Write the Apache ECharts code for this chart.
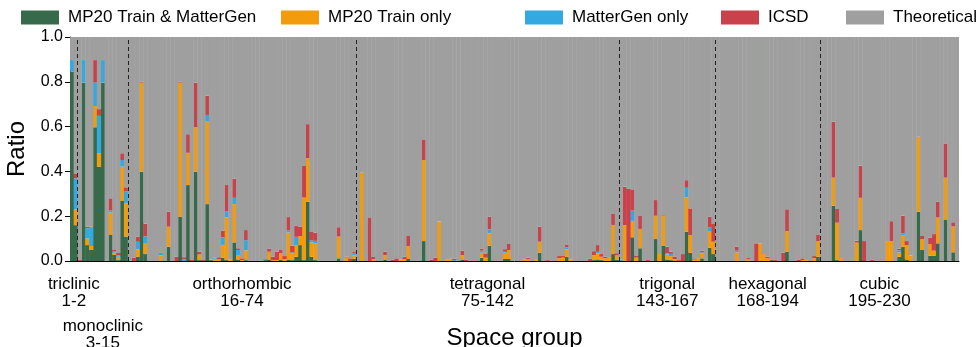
<!DOCTYPE html>
<html><head><meta charset="utf-8">
<script src="https://cdn.jsdelivr.net/npm/echarts@6/dist/echarts.min.js"></script>
<style>html,body{margin:0;padding:0;background:#fff}#c{width:976px;height:347px}</style>
</head><body><div id="c"></div>
<script>
// Space group numbers 1..230 (categories)
const spaceGroups = [];
for (let i = 1; i <= 230; i++) spaceGroups.push(String(i));

const both = [
.845,.16,0,.796,.071,.049,.597,.421,.796,0,
.116,.027,.004,.268,.109,0,0,.019,.399,.031,
0,0,0,0,0,.064,0,0,.198,0,
.339,0,.399,.004,0,.254,.004,0,0,.015,
.004,0,.083,.007,0,.004,0,0,0,0,
.004,.007,0,0,.007,0,.007,.004,.019,.071,
.004,.265,.019,.004,0,0,0,0,0,.012,
0,0,0,.01,0,0,0,0,0,0,
0,.007,0,0,0,0,0,.009,0,0,
0,.089,0,0,0,0,0,0,0,0,
0,.007,0,0,0,0,.015,0,.068,0,
0,0,.009,.009,0,0,0,0,0,0,
0,.037,0,0,0,0,0,0,.019,0,
0,0,0,0,0,.004,.007,.004,0,0,
.031,.005,0,0,0,.106,0,.057,0,0,
0,.098,0,.067,.007,.004,0,0,0,.131,
.037,0,0,.012,0,.06,.031,0,0,0,
0,0,0,0,0,0,0,0,0,0,
0,.004,0,0,0,.042,0,0,0,0,
0,0,0,.019,0,0,0,.247,.004,0,
0,0,0,0,.138,0,0,0,0,0,
0,0,0,0,.019,.064,.007,0,0,.22,
.049,0,.024,.024,.079,0,.183,0,.039,0];

const trainOnly = [
0,.07,0,0,.03,.018,.095,.06,0,0,
.1,.01,.015,.153,.149,0,0,.033,.397,.046,
0,0,0,.025,0,.089,0,0,.598,0,
.144,0,.198,.025,0,.368,.004,.01,.007,.057,
.191,.008,.171,.02,.004,.044,0,0,0,0,
0,.034,.004,.004,.027,.007,.12,.03,.052,.04,
.279,.193,.064,.074,0,0,0,0,0,.097,
0,.015,0,.016,0,.394,0,0,.008,0,
0,.019,0,0,0,.007,.007,.058,0,0,
0,.362,0,0,0,.176,0,.006,.007,0,
0,.019,0,0,0,0,.022,.015,.055,0,
0,0,.028,.04,0,0,0,.006,.007,0,
.006,.049,0,0,0,0,.012,.015,.033,.007,
0,0,0,0,0,.022,.027,.015,.012,.015,
.13,.02,0,.16,0,.073,.015,.086,0,0,
0,.104,.031,.135,.022,.018,.008,0,0,.153,
.079,.004,.012,.022,0,.074,.055,0,0,0,
0,0,.039,0,0,.007,0,0,.079,.031,
.012,.004,0,0,0,.092,0,0,0,.004,
.004,0,.012,.07,0,0,0,.125,.167,.012,
0,0,0,.082,.144,0,0,0,0,0,
0,.089,.089,0,.019,.052,.064,.024,0,.332,
.048,0,.052,.022,.115,0,.189,0,.115,0];

const genOnly = [
.052,.139,0,.101,.045,.083,.104,.167,.101,0,
.009,.005,.007,.03,.052,0,0,.034,0,.033,
0,0,0,.007,0,0,0,0,0,.007,
0,0,0,0,0,.03,0,.005,0,.033,
.028,0,.028,.022,0,.045,0,0,0,0,
0,0,0,0,0,0,.009,.004,.037,0,
0,0,.01,.012,0,0,0,0,0,0,
0,0,0,.007,0,0,0,0,0,0,
0,0,0,0,0,0,0,0,0,0,
0,0,0,0,0,0,0,0,0,.004,
0,0,0,0,0,0,.009,0,.018,0,
0,0,.004,0,0,0,0,0,0,0,
0,0,0,0,0,0,0,0,.009,0,
0,0,0,0,0,0,.007,0,0,0,
0,0,.006,0,0,.046,0,0,0,0,
0,0,0,0,.005,.01,0,0,0,.043,
0,0,0,.004,0,.015,0,0,0,0,
0,0,.007,0,0,0,0,0,0,0,
0,0,0,0,0,0,0,0,0,0,
0,0,0,0,0,0,0,0,0,0,
0,0,0,0,0,0,0,0,0,0,
0,0,0,0,.01,.007,0,0,0,0,
0,0,0,0,0,0,0,0,0,0];

const icsd = [
0,.022,.007,0,.007,.004,.101,.03,0,0,
.055,.007,.01,.03,.019,0,.015,.022,.005,.057,
0,0,0,.005,0,.067,0,.019,.004,.01,
.083,.007,.199,.012,.005,.086,0,0,.01,.03,
.116,0,.086,.008,.008,.045,0,0,0,0,
.004,.015,.015,.037,.015,.015,.06,.03,.048,.042,
.141,.153,.037,.036,0,0,0,0,0,.042,
0,.004,.012,.007,0,0,0,.195,.01,0,
0,.015,0,.007,.012,0,.012,.045,0,0,
0,.092,0,.007,.015,0,0,0,.004,.007,
0,.02,.007,0,.003,0,.01,.019,.057,0,
0,0,.012,.027,0,0,0,0,.007,0,
0,.067,0,.004,0,0,.01,.01,.013,0,
0,0,0,0,.01,.018,.03,.012,.007,0,
.049,.01,0,.171,.323,.095,.01,.058,0,.005,
0,.07,0,.003,.03,.009,.012,.004,.031,.034,
.119,.004,.004,.008,0,.049,.079,0,0,0,
0,0,.018,0,0,.009,0,.079,0,.003,
.007,.004,.004,0,.037,.097,0,0,.007,.008,
0,0,.01,.027,0,0,0,.25,.061,.004,
0,0,0,.009,.143,.089,0,.007,0,0,
0,0,.089,0,.007,.079,.018,0,0,.003,
.015,0,.028,.074,.071,0,.153,0,.019,0];

// Theoretical: remaining share of each space group (ratios sum to 1)
const theoretical = spaceGroups.map((_, i) =>
  +(1 - both[i] - trainOnly[i] - genOnly[i] - icsd[i]).toFixed(3));

const seriesNames = ['MP20 Train & MatterGen', 'MP20 Train only', 'MatterGen only', 'ICSD', 'Theoretical'];
const seriesColors = ['#376a4b', '#f29b0c', '#34a9e1', '#c9414a', '#9e9f9e'];

const systemNames = ['triclinic', 'monoclinic', 'orthorhombic', 'tetragonal', 'trigonal', 'hexagonal', 'cubic'];
const systemRanges = ['1-2', '3-15', '16-74', '75-142', '143-167', '168-194', '195-230'];
const systemStart = [1, 3, 16, 75, 143, 168, 195];
const systemEnd = [2, 15, 74, 142, 167, 194, 230];
const boundaries = [2.5, 15.5, 74.5, 142.5, 167.5, 194.5];

const FONT = '"Liberation Sans", Arial, Helvetica, sans-serif';
const chart = echarts.init(document.getElementById('c'), null, {renderer: 'canvas'});

const dataArrays = [both, trainOnly, genOnly, icsd, theoretical];
const legendLefts = [16, 276, 520, 716, 841];

const option = {
  animation: false,
  textStyle: {fontFamily: FONT},
  grid: {left: 70, right: 17, top: 37, bottom: 86, containLabel: false, outerBoundsMode: 'none'},
  legend: seriesNames.map((n, k) => ({
    data: [n], left: legendLefts[k], top: 4, icon: 'rect',
    itemWidth: 38, itemHeight: 14, selectedMode: false,
    textStyle: {fontSize: 17, color: '#000', fontFamily: FONT, padding: [0, 0, 0, 4]}
  })),
  xAxis: [{
    type: 'category', data: spaceGroups,
    axisLine: {show: true, lineStyle: {color: '#000', width: 1}},
    axisTick: {show: false}, axisLabel: {show: false}, splitLine: {show: false},
    name: 'Space group', nameLocation: 'middle', nameGap: 65,
    nameTextStyle: {fontSize: 24, color: '#000', fontFamily: FONT}
  }, {
    type: 'value', min: 0.5, max: 230.5, show: false
  }],
  yAxis: {
    type: 'value', min: 0, max: 1, interval: 0.2,
    axisLine: {show: true, lineStyle: {color: '#000', width: 1}},
    axisTick: {show: true, length: 5, lineStyle: {color: '#000'}},
    axisLabel: {formatter: v => v.toFixed(1), fontSize: 16, color: '#000', margin: 7, fontFamily: FONT},
    splitLine: {show: false},
    name: 'Ratio', nameLocation: 'middle', nameGap: 38,
    nameTextStyle: {fontSize: 24, color: '#000', fontFamily: FONT}
  },
  series: seriesNames.map((n, k) => ({
    name: n, type: 'bar', stack: 'total', data: dataArrays[k],
    barWidth: 4.3, itemStyle: {color: seriesColors[k]},
    emphasis: {disabled: true}
  })).concat([{
    type: 'line', xAxisIndex: 1, yAxisIndex: 0, data: [], silent: true, z: 10,
    markLine: {
      silent: true, symbol: ['none', 'none'], label: {show: false},
      lineStyle: {type: [4, 3], color: '#222', width: 1},
      data: boundaries.map(b => ({xAxis: b}))
    }
  }])
};
chart.setOption(option);

// crystal-system labels under the axis
const labelShift = [0, 0, 0, 0, 0, 0, -10];
const graphics = [];
systemNames.forEach((name, k) => {
  const x = chart.convertToPixel({xAxisIndex: 1}, (systemStart[k] + systemEnd[k]) / 2) + labelShift[k];
  const y = k === 1 ? 318 : 276;
  graphics.push({
    type: 'text', x: x, y: y,
    style: {text: name + '\n' + systemRanges[k], fill: '#000', font: '17px ' + FONT,
      textAlign: 'center', textVerticalAlign: 'top', lineHeight: 17}
  });
});
chart.setOption({graphic: graphics});
</script></body></html>
